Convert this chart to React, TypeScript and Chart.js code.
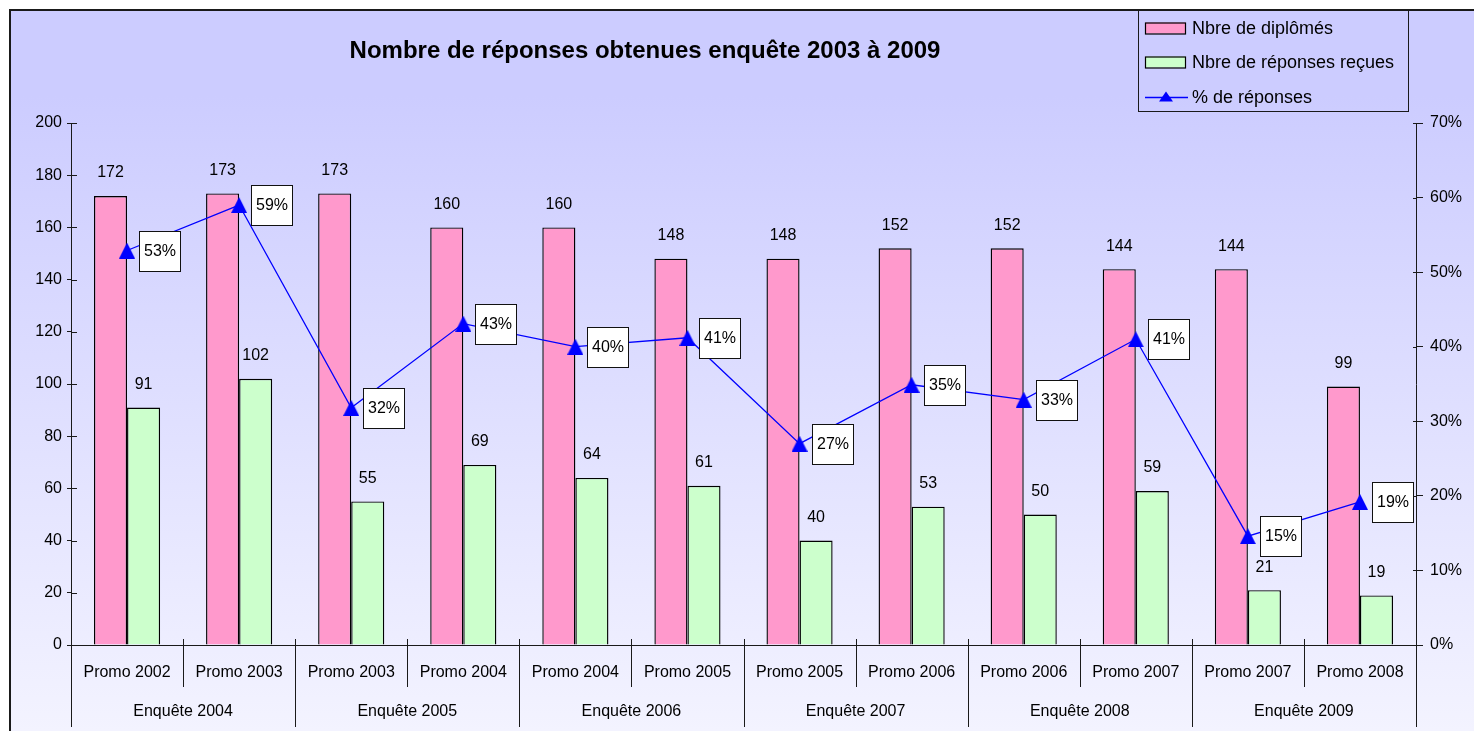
import React, { useEffect, useRef } from 'react';
import { Chart, registerables } from 'chart.js';

Chart.register(...registerables);

const TITLE = 'Nombre de réponses obtenues enquête 2003 à 2009';
const categories = ['Promo 2002', 'Promo 2003', 'Promo 2003', 'Promo 2004', 'Promo 2004', 'Promo 2005', 'Promo 2005', 'Promo 2006', 'Promo 2006', 'Promo 2007', 'Promo 2007', 'Promo 2008'];
const surveys = ['Enquête 2004', 'Enquête 2005', 'Enquête 2006', 'Enquête 2007', 'Enquête 2008', 'Enquête 2009'];
const graduates = [172, 173, 173, 160, 160, 148, 148, 152, 152, 144, 144, 99];
const responses = [91, 102, 55, 69, 64, 61, 40, 53, 50, 59, 21, 19];
const responseRate = [52.9, 59.0, 31.8, 43.1, 40.0, 41.2, 27.0, 34.9, 32.9, 41.0, 14.6, 19.2];
const seriesNames = ['Nbre de diplômés', 'Nbre de réponses reçues', '% de réponses'];
const leftTicks = { min: 0, max: 200, step: 20 };
const rightTicks = { min: 0, max: 70, step: 10 };

const FONT = "'Liberation Sans', Arial, sans-serif";
const PINK = '#FF99CC';
const GREEN = '#CCFFCC';
const BLUE = '#0000FF';
const AXIS = '#1a1a1a';

function makeTriangle(w: number, h: number, color: string) {
  const c = document.createElement('canvas');
  c.width = w;
  c.height = h;
  const g = c.getContext('2d')!;
  g.fillStyle = color;
  g.beginPath();
  g.moveTo(w / 2, 0);
  g.lineTo(w, h);
  g.lineTo(0, h);
  g.closePath();
  g.fill();
  return c;
}

const decor = {
  id: 'decor',
  beforeDraw(chart: any) {
    const { ctx, width, height } = chart;
    ctx.save();
    ctx.fillStyle = '#ffffff';
    ctx.fillRect(0, 0, width, height);
    const g = ctx.createLinearGradient(0, 9, 0, height);
    g.addColorStop(0, '#CCCCFF');
    g.addColorStop(0.12, '#CCCCFF');
    g.addColorStop(1, '#F3F3FF');
    ctx.fillStyle = g;
    ctx.fillRect(9, 9, width - 9, height - 9);
    ctx.fillStyle = AXIS;
    ctx.fillRect(9, 9, width - 9, 2);
    ctx.fillRect(9, 9, 2, height - 9);
    ctx.restore();
  },
  afterDatasetsDraw(chart: any) {
    const { ctx } = chart;
    ctx.save();
    ctx.font = `16px ${FONT}`;
    ctx.fillStyle = '#000';
    ctx.textAlign = 'center';
    ctx.textBaseline = 'middle';
    [graduates, responses].forEach((vals, di) => {
      const meta = chart.getDatasetMeta(di);
      meta.data.forEach((el: any, i: number) => {
        ctx.fillText(String(vals[i]), el.x, el.y - 23);
      });
    });
    const lm = chart.getDatasetMeta(2);
    lm.data.forEach((el: any, i: number) => {
      const txt = Math.round(responseRate[i]) + '%';
      const w = Math.round(ctx.measureText(txt).width + 9);
      const h = 40;
      const bx = Math.round(el.x + 12);
      const by = Math.round(el.y - h / 2);
      ctx.fillStyle = '#fff';
      ctx.fillRect(bx, by, w, h);
      ctx.strokeStyle = '#111';
      ctx.lineWidth = 1;
      ctx.strokeRect(bx + 0.5, by + 0.5, w, h);
      ctx.fillStyle = '#000';
      ctx.fillText(txt, bx + w / 2 + 0.5, by + h / 2 + 1);
    });
    ctx.restore();
  },
  afterDraw(chart: any) {
    const { ctx, chartArea } = chart;
    const xs = chart.scales.x;
    ctx.save();
    // title
    ctx.fillStyle = '#000';
    ctx.font = `bold 24px ${FONT}`;
    ctx.textAlign = 'center';
    ctx.textBaseline = 'middle';
    ctx.fillText(TITLE, 645, 51);

    // inner tick marks
    ctx.strokeStyle = AXIS;
    ctx.lineWidth = 1;
    const yl = chart.scales.y;
    yl.ticks.forEach((_: any, i: number) => {
      const y = Math.round(yl.getPixelForTick(i)) + 0.5;
      ctx.beginPath();
      ctx.moveTo(chartArea.left, y);
      ctx.lineTo(chartArea.left + 6, y);
      ctx.stroke();
    });
    const yr = chart.scales.y1;
    yr.ticks.forEach((_: any, i: number) => {
      const y = Math.round(yr.getPixelForTick(i)) + 0.5;
      ctx.beginPath();
      ctx.moveTo(chartArea.right - 3, y);
      ctx.lineTo(chartArea.right, y);
      ctx.stroke();
    });

    // x axis multi-level labels
    const centers = categories.map((_, i) => xs.getPixelForValue(i));
    const bounds: number[] = [chartArea.left];
    for (let k = 1; k < centers.length; k++) bounds.push((centers[k - 1] + centers[k]) / 2);
    bounds.push(chartArea.right);
    const base = chartArea.bottom;
    bounds.forEach((b, k) => {
      const x = Math.round(b) + 0.5;
      ctx.beginPath();
      ctx.moveTo(x, base - 6);
      ctx.lineTo(x, k % 2 === 0 ? base + 82 : base + 42);
      ctx.stroke();
    });
    ctx.font = `16px ${FONT}`;
    ctx.fillStyle = '#000';
    categories.forEach((c, i) => ctx.fillText(c, centers[i], base + 28));
    surveys.forEach((s, g) => ctx.fillText(s, (bounds[2 * g] + bounds[2 * g + 2]) / 2, base + 67));

    // legend
    ctx.strokeStyle = AXIS;
    ctx.strokeRect(1138.5, 9.5, 270, 102);
    ctx.textAlign = 'left';
    ctx.font = `18px ${FONT}`;
    const items = [
      { y: 28.5, kind: 'bar', color: PINK },
      { y: 62.5, kind: 'bar', color: GREEN },
      { y: 97.5, kind: 'line', color: BLUE },
    ];
    items.forEach((it, i) => {
      if (it.kind === 'bar') {
        ctx.fillStyle = it.color;
        ctx.fillRect(1145, it.y - 6, 41, 11);
        ctx.strokeStyle = '#000';
        ctx.lineWidth = 1.2;
        ctx.strokeRect(1145.5, it.y - 5.5, 40, 11);
      } else {
        ctx.strokeStyle = BLUE;
        ctx.lineWidth = 1.3;
        ctx.beginPath();
        ctx.moveTo(1145, it.y);
        ctx.lineTo(1188, it.y);
        ctx.stroke();
        ctx.fillStyle = BLUE;
        ctx.beginPath();
        ctx.moveTo(1166, it.y - 6);
        ctx.lineTo(1173, it.y + 4);
        ctx.lineTo(1159, it.y + 4);
        ctx.closePath();
        ctx.fill();
      }
      ctx.fillStyle = '#000';
      ctx.fillText(seriesNames[i], 1192, it.y + 1);
    });
    ctx.restore();
  },
};

export default function App() {
  const ref = useRef<HTMLCanvasElement | null>(null);
  useEffect(() => {
    if (!ref.current) return;
    const tri = makeTriangle(16, 16, BLUE);
    const chart = new Chart(ref.current, {
      type: 'bar',
      data: {
        labels: categories,
        datasets: [
          {
            type: 'bar',
            label: seriesNames[0],
            data: graduates,
            backgroundColor: PINK,
            borderColor: '#000',
            borderWidth: 1.4,
            yAxisID: 'y',
            order: 1,
            categoryPercentage: 0.59,
            barPercentage: 1,
          },
          {
            type: 'bar',
            label: seriesNames[1],
            data: responses,
            backgroundColor: GREEN,
            borderColor: '#000',
            borderWidth: 1.4,
            yAxisID: 'y',
            order: 2,
            categoryPercentage: 0.59,
            barPercentage: 1,
          },
          {
            type: 'line',
            label: seriesNames[2],
            data: responseRate,
            borderColor: BLUE,
            borderWidth: 1.3,
            backgroundColor: BLUE,
            pointStyle: tri as any,
            pointRadius: 8,
            fill: false,
            tension: 0,
            yAxisID: 'y1',
            order: 0,
          } as any,
        ],
      },
      options: {
        animation: false,
        responsive: false,
        layout: { padding: { top: 123, left: 0, right: 0, bottom: 0 } },
        plugins: {
          legend: { display: false },
          tooltip: { enabled: false },
          title: { display: false },
        },
        scales: {
          x: {
            type: 'category',
            offset: true,
            grid: { display: false },
            ticks: { display: false },
            border: { display: true, color: AXIS, width: 1 },
            afterFit: (s: any) => { s.height = 86; },
          },
          y: {
            position: 'left',
            min: leftTicks.min,
            max: leftTicks.max,
            ticks: {
              stepSize: leftTicks.step,
              color: '#000',
              font: { family: FONT, size: 16 },
              padding: 5,
            },
            grid: { drawOnChartArea: false, drawTicks: true, tickLength: 4, color: AXIS, lineWidth: 1 },
            border: { display: true, color: AXIS, width: 1 },
            afterFit: (s: any) => { s.width = 71; },
          },
          y1: {
            position: 'right',
            min: rightTicks.min,
            max: rightTicks.max,
            ticks: {
              stepSize: rightTicks.step,
              color: '#000',
              font: { family: FONT, size: 16 },
              padding: 7,
              callback: (v: any) => v + '%',
            },
            grid: { drawOnChartArea: false, drawTicks: true, tickLength: 7, color: AXIS, lineWidth: 1 },
            border: { display: true, color: AXIS, width: 1 },
            afterFit: (s: any) => { s.width = 58; },
          },
        },
      },
      plugins: [decor],
    });
    return () => chart.destroy();
  }, []);
  return (
    <div style={{ position: 'absolute', left: 0, top: 0, width: 1474, height: 731 }}>
      <canvas ref={ref} width={1474} height={731} style={{ display: 'block' }} />
    </div>
  );
}
